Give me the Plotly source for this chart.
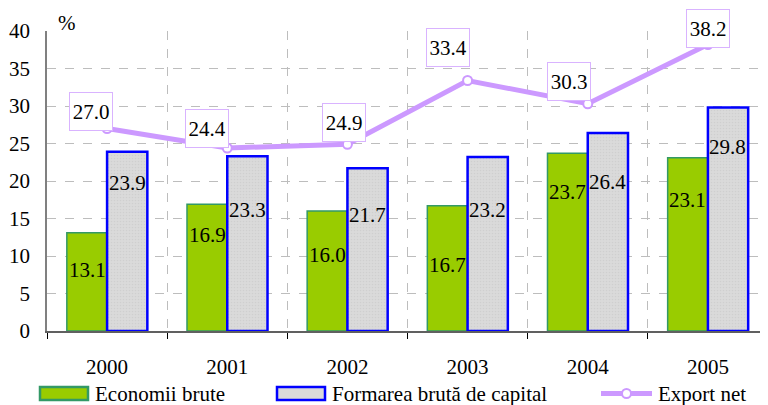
import plotly.graph_objects as go

# Data
years = ['2000', '2001', '2002', '2003', '2004', '2005']
economii_brute = [13.1, 16.9, 16.0, 16.7, 23.7, 23.1]
formarea_bruta = [23.9, 23.3, 21.7, 23.2, 26.4, 29.8]
export_net = [27.0, 24.4, 24.9, 33.4, 30.3, 38.2]

# Label placement (pixels) - mimics the hand-placed labels of the original
green_drop = [37, 31, 44, 59, 39, 42]
gray_drop = [31, 54, 47, 53, 49, 39]
line_label_shift = [(-16, 17), (-20, 20), (-3, 22), (-20, 33), (-19, 22), (0, 16)]

FONT = 'Liberation Serif'
GREEN = '#99CC00'
GREEN_EDGE = '#339966'
GRAY = '#DADADA'
BLUE = '#0000FF'
LAVENDER = '#CC99FF'

# page has an 8px body margin, so the figure is shrunk by that much
PAGE_OFF = 8
W, H = 768 - PAGE_OFF, 405 - PAGE_OFF
PLOT_X0, PLOT_X1, PLOT_Y0, PLOT_Y1 = 47, 768, 31, 331   # plot area in page pixels
L, R = PLOT_X0 - PAGE_OFF, 0
T, B = PLOT_Y0 - PAGE_OFF, H - (PLOT_Y1 - PAGE_OFF)


def px_x(x):
    return (x - PLOT_X0) / (PLOT_X1 - PLOT_X0)


def px_y(y):
    return (PLOT_Y1 - y) / (PLOT_Y1 - PLOT_Y0)


fig = go.Figure()

fig.add_trace(go.Bar(
    x=years, y=economii_brute, name='Economii brute',
    marker=dict(color=GREEN, line=dict(color=GREEN_EDGE, width=1.5)),
))
fig.add_trace(go.Bar(
    x=years, y=formarea_bruta, name='Formarea brută de capital',
    marker=dict(color=GRAY, line=dict(color=BLUE, width=2.5),
                pattern=dict(shape='.', fgcolor='#C4C4C4', bgcolor=GRAY, size=3, solidity=0.25)),
))
fig.add_trace(go.Scatter(
    x=years, y=export_net, name='Export net', mode='lines+markers',
    line=dict(color=LAVENDER, width=5),
    marker=dict(symbol='circle', size=9, color='white', line=dict(color=LAVENDER, width=2)),
))

annotations = []
for i, yr in enumerate(years):
    # category index i is used so the year strings are not read as numbers
    annotations.append(dict(x=i, y=economii_brute[i], xref='x', yref='y', text=f'{economii_brute[i]:.1f}',
                            showarrow=False, xshift=-20, yshift=-green_drop[i], yanchor='middle',
                            font=dict(size=21, color='black', family=FONT)))
    annotations.append(dict(x=i, y=formarea_bruta[i], xref='x', yref='y', text=f'{formarea_bruta[i]:.1f}',
                            showarrow=False, xshift=20, yshift=-gray_drop[i], yanchor='middle',
                            font=dict(size=21, color='black', family=FONT)))
    dx, dy = line_label_shift[i]
    annotations.append(dict(x=i, y=export_net[i], xref='x', yref='y', text=f'{export_net[i]:.1f}',
                            showarrow=False, xshift=dx, yshift=dy, yanchor='middle',
                            width=40, height=35, borderpad=1, borderwidth=1,
                            bordercolor='#D9B3FF', bgcolor='white',
                            font=dict(size=21, color='black', family=FONT)))

# % unit label
annotations.append(dict(x=px_x(67), y=px_y(23), xref='paper', yref='paper', text='%', showarrow=False,
                        xanchor='center', yanchor='middle',
                        font=dict(size=21, color='black', family=FONT)))

# hand-drawn legend
shapes = []
leg_y = 393.5
legend_items = [
    ('Economii brute', 40, 93, 'bar', GREEN, GREEN_EDGE),
    ('Formarea brută de capital', 277, 330, 'bar', GRAY, BLUE),
    ('Export net', 601, 656, 'line', LAVENDER, LAVENDER),
]
for label, sx, tx, kind, fill, edge in legend_items:
    if kind == 'bar':
        shapes.append(dict(type='rect', xref='paper', yref='paper',
                           x0=px_x(sx), x1=px_x(sx + 48), y0=px_y(leg_y - 6.5), y1=px_y(leg_y + 6.5),
                           fillcolor=fill, line=dict(color=edge, width=2.5)))
    else:
        shapes.append(dict(type='line', xref='paper', yref='paper',
                           x0=px_x(sx), x1=px_x(sx + 51), y0=px_y(leg_y), y1=px_y(leg_y),
                           line=dict(color=fill, width=5)))
        shapes.append(dict(type='circle', xref='paper', yref='paper',
                           xsizemode='pixel', ysizemode='pixel',
                           xanchor=px_x(sx + 25.5), yanchor=px_y(leg_y),
                           x0=-4.5, x1=4.5, y0=-4.5, y1=4.5,
                           fillcolor='white', line=dict(color=fill, width=2)))
    annotations.append(dict(x=px_x(tx), y=px_y(leg_y), xref='paper', yref='paper', text=label,
                            showarrow=False, xanchor='left', yanchor='middle',
                            font=dict(size=21, color='black', family=FONT)))

fig.update_layout(
    width=W, height=H,
    barmode='group', bargap=0.33, bargroupgap=0,
    showlegend=False,
    plot_bgcolor='white', paper_bgcolor='white',
    font=dict(family=FONT, size=21, color='black'),
    margin=dict(l=L, r=R, t=T, b=B, autoexpand=False),
    annotations=annotations,
    shapes=shapes,
    xaxis=dict(
        type='category', range=[-0.5, 5.5], tickson='boundaries', ticks='outside', ticklen=6,
        tickcolor='black', tickangle=0,
        showgrid=True, gridcolor='#BDBDBD', griddash='dash', gridwidth=1,
        showline=True, linecolor='#606060', linewidth=1.5,
        ticklabelstandoff=16, tickfont=dict(size=21, family=FONT),
    ),
    yaxis=dict(
        range=[0, 40], dtick=5, ticks='',
        showgrid=True, gridcolor='#BDBDBD', griddash='dash', gridwidth=1,
        showline=True, linecolor='#808080', linewidth=1.5, zeroline=False,
        ticklabelstandoff=11, tickfont=dict(size=21, family=FONT),
    ),
)

fig.write_html('out.html')
